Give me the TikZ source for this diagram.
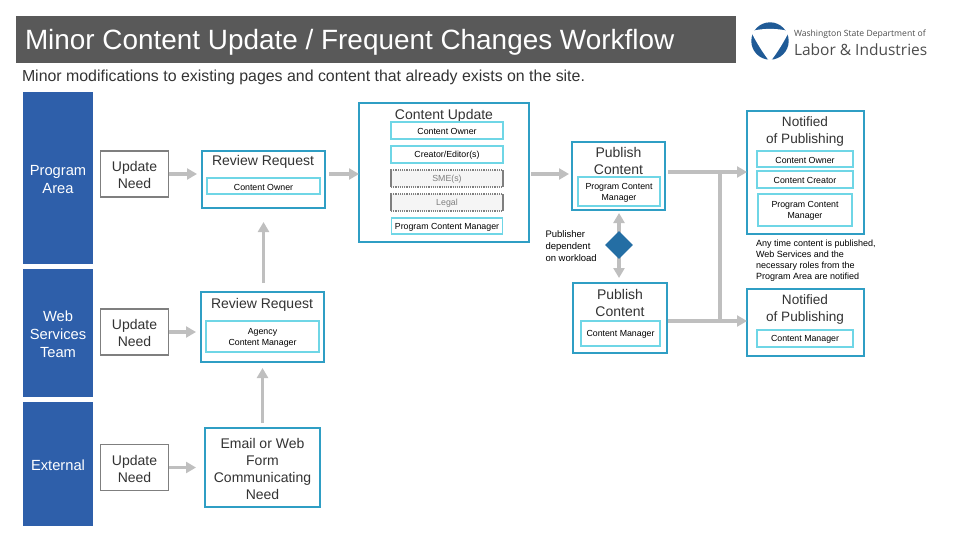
\documentclass[tikz,border=0pt]{standalone}
\usepackage{fontspec}
\setmainfont{Liberation Sans}
\newfontfamily\logofont{Open Sans}
\usetikzlibrary{arrows.meta,shapes.geometric}
\definecolor{lane}{HTML}{2E5FAA}
\definecolor{teal}{HTML}{2F9EC4}
\definecolor{aqua}{HTML}{6FD6E6}
\definecolor{barc}{HTML}{595959}
\definecolor{flow}{HTML}{BFBFBF}
\definecolor{needc}{HTML}{7F7F7F}
\definecolor{logoc}{HTML}{1F5A96}
\definecolor{txt}{HTML}{333333}
\tikzset{
  x=1pt,y=-1pt,
  base/.style={inner sep=0pt,outer sep=0pt,align=center,text=txt,font=\fontsize{14}{17}\selectfont},
  lanebox/.style={base,fill=lane},
  lanetext/.style={base,text=white,font=\fontsize{14.7}{18}\selectfont},
  needbox/.style={base,draw=needc,line width=1.6pt,fill=white},
  outerbox/.style={base,draw=teal,line width=1.8pt,fill=white},
  innerbox/.style={base,draw=aqua,line width=1.8pt,fill=white},
  greybox/.style={base,draw=needc,densely dotted,line width=1.2pt,fill=black!4},
  greyside/.style={draw=needc,line width=1.4pt},
  label/.style={base},
  tiny/.style={base,text=black,font=\fontsize{8.8}{11.2}\selectfont},
  greytext/.style={base,text=needc,font=\fontsize{8.8}{11.2}\selectfont},
  small/.style={base,align=left,text=black,font=\fontsize{9.5}{12}\selectfont},
  note/.style={base,align=left,text=black,font=\fontsize{9}{10.9}\selectfont},
  arr/.style={draw=flow,line width=3.8pt,-{Triangle[length=10pt,width=11pt,fill=flow]}},
  arrtw/.style={draw=flow,line width=3.8pt,{Triangle[length=10pt,width=11pt,fill=flow]}-{Triangle[length=10pt,width=11pt,fill=flow]}},
  plain/.style={draw=flow,line width=3.8pt},
}
% box style, text style, name, cx, cy, width, height, text
\newcommand\tbox[8]{%
  \node[#1,minimum width=#6pt,minimum height=#7pt] (#3) at (#4,#5) {};
  \node[#2,yshift=-1.2pt] (#3t) at (#3.center) {#8};
}
\begin{document}
\begin{tikzpicture}
\useasboundingbox (0,0) rectangle (960,540);
% title
\node[base,fill=barc,minimum width=720pt,minimum height=47pt] (bar) at (376,39.5) {};
\node[base,anchor=west,text=white,font=\fontsize{27.9}{30}\selectfont] (title) at (25,42.5) {Minor Content Update / Frequent Changes Workflow};
\node[base,anchor=west,font=\fontsize{15.9}{18}\selectfont] (sub) at (22,77.5) {Minor modifications to existing pages and content that already exists on the site.};
% logo
\fill[logoc] (770,41) circle[radius=18.7];
\fill[white] (751,31.5) .. controls (760,28) and (780,28) .. (789,31.5) .. controls (784,42) and (777,53) .. (770,62) .. controls (763,53) and (756,42) .. (751,31.5) -- cycle;
\node[base,anchor=west,text=black!70,font=\logofont\fontsize{8.6}{10}\selectfont] (logo1) at (794,34.5) {Washington State Department of};
\node[base,anchor=west,text=black!70,font=\logofont\fontsize{15.5}{18}\selectfont] (logo2) at (794,50) {Labor \& Industries};
% lanes
\tbox{lanebox}{lanetext}{lane1}{58}{178}{70}{172}{Program\\Area}
\tbox{lanebox}{lanetext}{lane2}{58}{333}{70}{128}{Web\\Services\\Team}
\tbox{lanebox}{lanetext}{lane3}{58}{464}{70}{124}{External}
% update needs
\tbox{needbox}{label}{un1}{134.5}{174}{68}{46}{Update\\Need}
\tbox{needbox}{label}{un2}{134.5}{332}{68}{46}{Update\\Need}
\tbox{needbox}{label}{un3}{134.5}{467.5}{68}{46}{Update\\Need}
% review 1
\node[outerbox,minimum width=123pt,minimum height=57pt] (rr1) at (263.5,179.5) {};
\node[label] (rr1t) at (263,162) {Review Request};
\tbox{innerbox}{tiny}{rr1i}{263.5}{186}{113}{16}{Content Owner}
% review 2
\node[outerbox,minimum width=123pt,minimum height=70pt] (rr2) at (262.5,327) {};
\node[label] (rr2t) at (262,305) {Review Request};
\tbox{innerbox}{tiny}{rr2i}{262.5}{336.5}{113}{31}{Agency\\Content Manager}
% email
\tbox{outerbox}{label}{mail}{262.5}{467.5}{115}{79}{Email or Web\\Form\\Communicating\\Need}
% content update
\node[outerbox,minimum width=170pt,minimum height=139pt] (cu) at (444,172.5) {};
\node[label] (cut) at (444,115.5) {Content Update};
\tbox{innerbox}{tiny}{cu1}{447}{130.5}{112}{17}{Content Owner}
\tbox{innerbox}{tiny}{cu2}{447}{154.5}{112}{17}{Creator/Editor(s)}
\tbox{greybox}{greytext}{cu3}{447}{178.5}{112}{17}{SME(s)}
\tbox{greybox}{greytext}{cu4}{447}{202.5}{112}{17}{Legal}
\draw[greyside] (cu3.north west) -- (cu3.south west);
\draw[greyside] (cu3.north east) -- (cu3.south east);
\draw[greyside] (cu4.north west) -- (cu4.south west);
\draw[greyside] (cu4.north east) -- (cu4.south east);
\tbox{innerbox}{tiny}{cu5}{447}{226}{111}{16}{Program Content Manager}
% publish 1
\node[outerbox,minimum width=93pt,minimum height=68pt] (pub1) at (618.5,176) {};
\node[label] (pub1t) at (618.5,160.5) {Publish\\Content};
\tbox{innerbox}{tiny}{pub1i}{619}{191.5}{82}{29}{Program Content\\Manager}
% publish 2
\node[outerbox,minimum width=94pt,minimum height=70pt] (pub2) at (620,318) {};
\node[label] (pub2t) at (620,302.5) {Publish\\Content};
\tbox{innerbox}{tiny}{pub2i}{620.5}{333.5}{79}{25}{Content Manager}
% diamond
\coordinate (dtop) at (619,213);
\coordinate (dbot) at (619,278);
\draw[arrtw] (dtop) -- (dbot);
\node[diamond,aspect=1,fill=logoc!70!teal,inner sep=0pt,minimum width=28pt,minimum height=28pt] (dec) at (619,245) {};
\node[small,anchor=west] (dectxt) at (545.5,246) {Publisher\\dependent\\on workload};
% notified 1
\node[outerbox,minimum width=117pt,minimum height=123pt] (not1) at (805.5,172.5) {};
\node[label,font=\fontsize{13.6}{17}\selectfont] (not1t) at (805,131) {Notified\\of Publishing};
\tbox{innerbox}{tiny}{not1a}{805}{159}{96}{16}{Content Owner}
\tbox{innerbox}{tiny}{not1b}{805}{179.5}{96}{17}{Content Creator}
\tbox{innerbox}{tiny}{not1c}{805}{210}{94}{32}{Program Content\\Manager}
\node[note,anchor=west] (notetxt) at (756,261) {Any time content is published,\\Web Services and the\\necessary roles from the\\Program Area are notified};
% notified 2
\node[outerbox,minimum width=117pt,minimum height=67pt] (not2) at (805.5,322.5) {};
\node[label,font=\fontsize{13.6}{17}\selectfont] (not2t) at (805,309.5) {Notified\\of Publishing};
\tbox{innerbox}{tiny}{not2a}{805}{338.5}{96}{17}{Content Manager}
% connectors
\draw[arr,shorten >=5pt] (un1.east) -- (un1.east -| rr1.west);
\draw[arr,shorten >=5pt] (un2.east) -- (un2.east -| rr2.west);
\draw[arr,shorten >=9pt] (un3.east) -- (un3.east -| mail.west);
\draw[arr,shorten <=9pt,shorten >=14pt] (rr2.north -| rr1.south) -- (rr1.south);
\draw[arr,shorten <=5pt,shorten >=6pt] (mail.north) -- (mail.north |- rr2.south);
\draw[arr,shorten <=4pt] (un1.east -| rr1.east) -- (un1.east -| cu.west);
\draw[arr,shorten <=2pt,shorten >=3pt] (un1.east -| cu.east) -- (un1.east -| pub1.west);
\coordinate (j1) at (720,172);
\coordinate (j2) at (720,321);
\draw[arr,shorten <=3pt] (j1 -| pub1.east) -- (j1 -| not1.west);
\draw[arr,shorten <=1pt] (j2 -| pub2.east) -- (j2 -| not2.west);
\draw[plain] (j1) -- (j2);
\end{tikzpicture}
\end{document}
